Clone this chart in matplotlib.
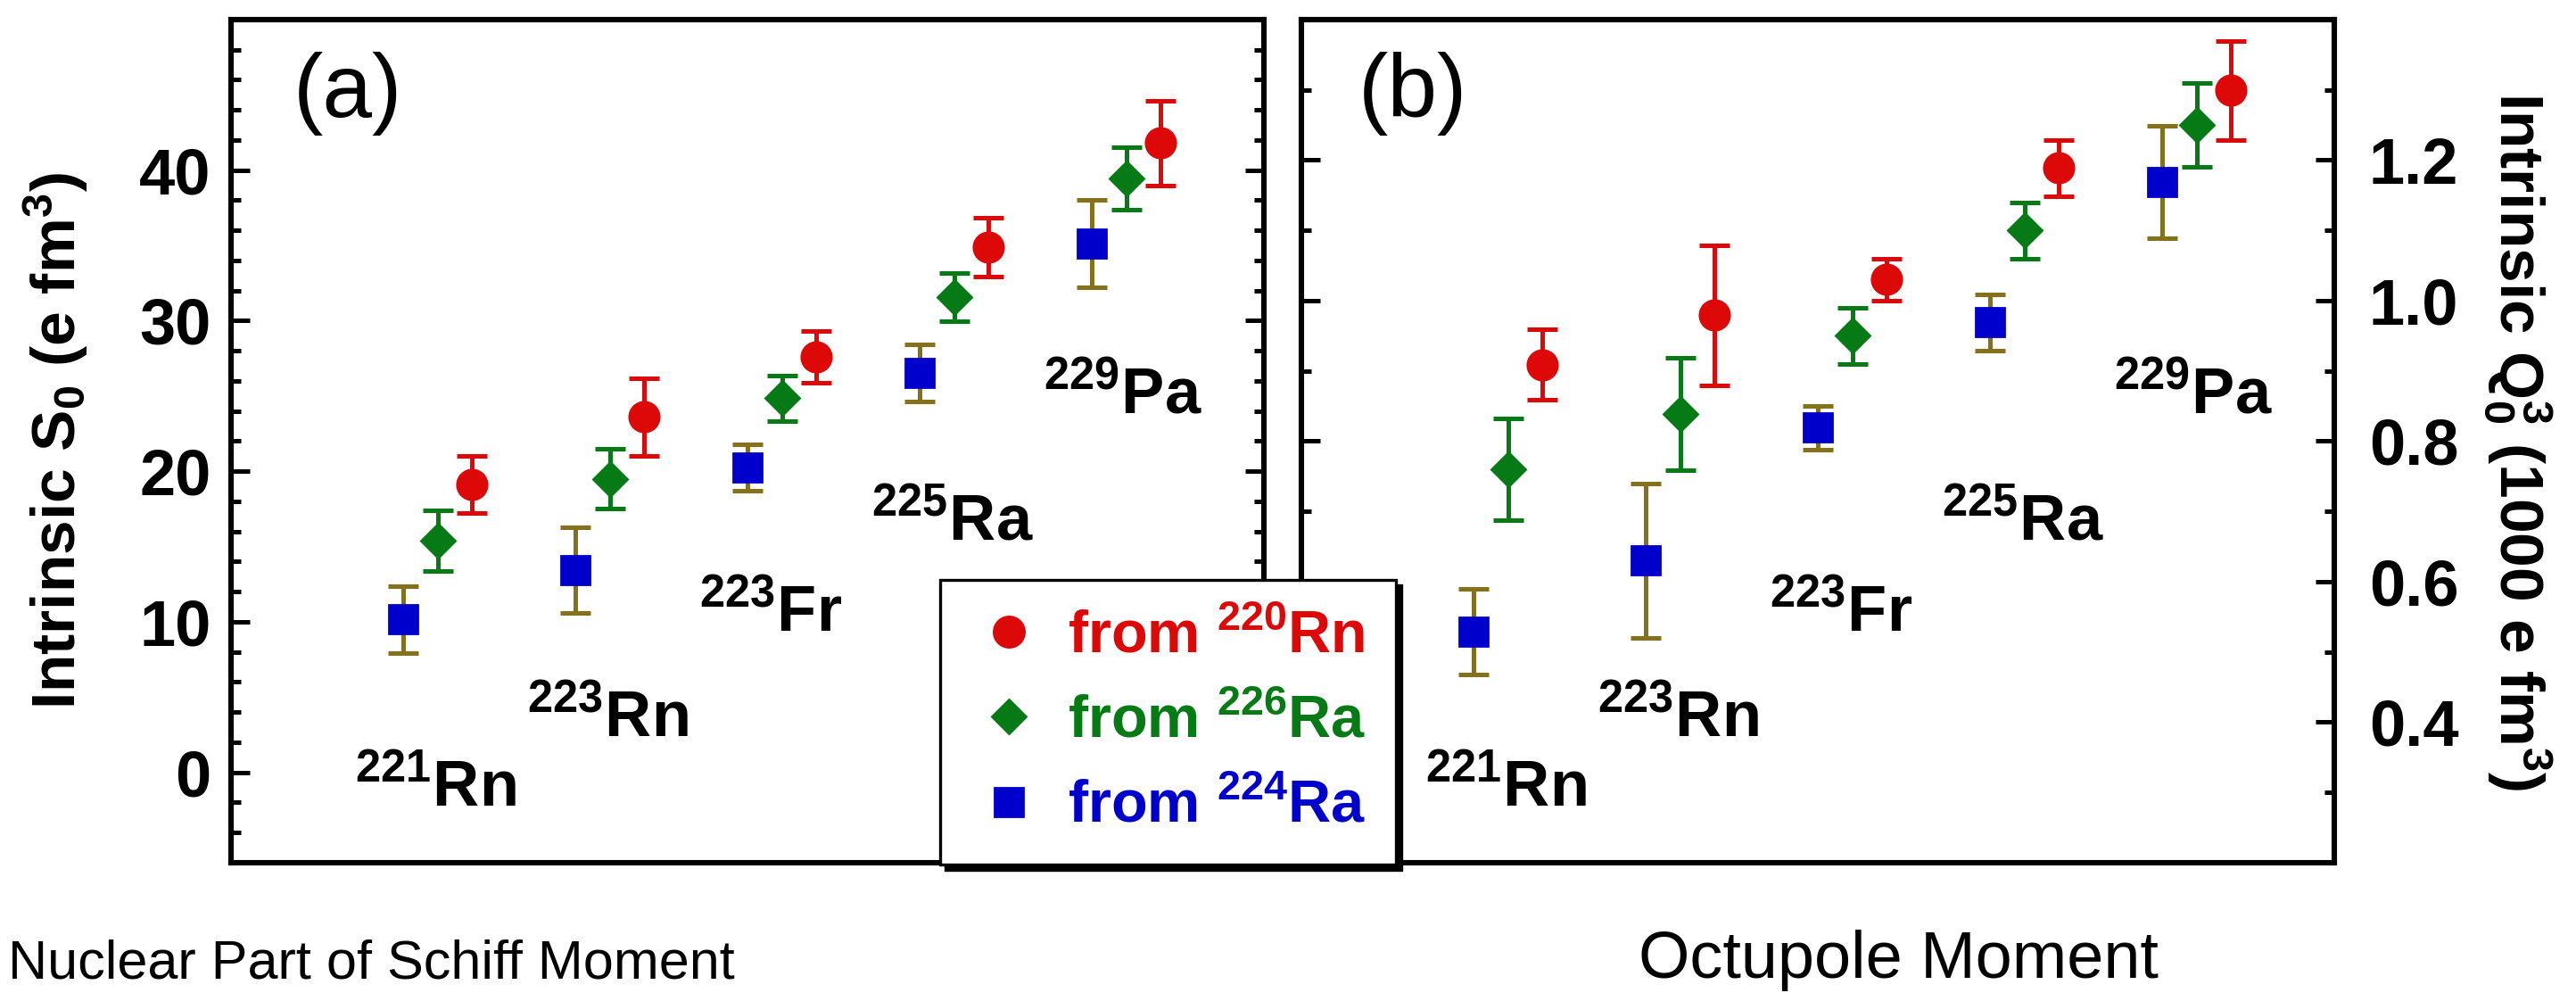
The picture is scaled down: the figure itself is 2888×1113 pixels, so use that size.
import numpy as np
import matplotlib
matplotlib.use('Agg')
import matplotlib.pyplot as plt
from matplotlib import font_manager
from matplotlib.lines import Line2D
from matplotlib.ticker import MultipleLocator

plt.rcParams['font.family'] = ['Liberation Sans', 'DejaVu Sans']
plt.rcParams['mathtext.default'] = 'regular'

# nuclei (one group per nucleus) and the three sources
nuclei = [r'$^{221}$Rn', r'$^{223}$Rn', r'$^{223}$Fr', r'$^{225}$Ra', r'$^{229}$Pa']
sources = [r'from $^{220}$Rn', r'from $^{226}$Ra', r'from $^{224}$Ra']

# (a) intrinsic Schiff moment S0 (e fm^3)
s_rn220 = [19.1, 23.6, 27.6, 34.9, 41.8]
s_rn220_err = [1.9, 2.6, 1.7, 1.95, 2.8]
s_ra226 = [15.4, 19.5, 24.85, 31.55, 39.45]
s_ra226_err = [2.0, 2.0, 1.5, 1.6, 2.05]
s_ra224 = [10.15, 13.45, 20.25, 26.55, 35.1]
s_ra224_err = [2.2, 2.85, 1.55, 1.9, 2.9]

# (b) intrinsic octupole moment Q0^3 (1000 e fm^3)
q_rn220 = [0.909, 0.979, 1.030, 1.189, 1.299]
q_rn220_err = [0.05, 0.10, 0.03, 0.04, 0.07]
q_ra226 = [0.760, 0.839, 0.950, 1.100, 1.250]
q_ra226_err = [0.072, 0.08, 0.04, 0.04, 0.06]
q_ra224 = [0.529, 0.630, 0.819, 0.969, 1.169]
q_ra224_err = [0.061, 0.11, 0.031, 0.04, 0.08]

RED = '#dd0808'
GREEN = '#067a14'
BLUE = '#0000cc'
OLIVE = '#85701c'

# style per source: marker colour, error bar colour, marker, size, x shift
styles = [
    (RED, RED, 'o', 12, 0.2),
    (GREEN, GREEN, 'D', 9.5, 0.0),
    (BLUE, OLIVE, 's', 11.5, -0.2),
]

x = np.arange(1, len(nuclei) + 1)

# where the nucleus names sit (left edge x, centre y in data units)
lab_dx = -0.48
lab_y_a = [-1.1, 3.5, 10.5, 16.6, 25.0]
lab_y_b = [0.305, 0.404, 0.554, 0.684, 0.864]

# the left x title is set in a narrow face; fall back to a smaller size
installed = {f.name for f in font_manager.fontManager.ttflist}
if 'Liberation Sans Narrow' in installed:
    narrow_family, narrow_size = 'Liberation Sans Narrow', 27
else:
    narrow_family, narrow_size = 'Liberation Sans', 22


def draw_panel(ax, series, lab_y):
    for (vals, errs), (col, ecol, mk, ms, dx) in zip(series, styles):
        ax.errorbar(x + dx, vals, yerr=errs, fmt=mk, color=col, mec=col,
                    ecolor=ecol, ms=ms, elinewidth=1.8, capsize=6,
                    capthick=1.8, zorder=3)
    for xi, yi, name in zip(x, lab_y, nuclei):
        ax.text(xi + lab_dx, yi, name, fontsize=26, fontweight='bold',
                ha='left', va='center')
    ax.set_xlim(-0.2, 5.8)
    ax.set_xticks([])
    for sp in ax.spines.values():
        sp.set_linewidth(2.2)
    ax.tick_params(axis='y', which='both', direction='in', left=True,
                   right=True, width=1.8)
    ax.tick_params(axis='y', which='major', length=7.5)
    ax.tick_params(axis='y', which='minor', length=4)


fig = plt.figure(figsize=(14.44, 5.565), dpi=200)
ax_a = fig.add_axes([0.0897, 0.1312, 0.4010, 0.8491])
ax_b = fig.add_axes([0.5052, 0.1312, 0.4010, 0.8491])

# panel (a)
draw_panel(ax_a, [(s_rn220, s_rn220_err), (s_ra226, s_ra226_err),
                  (s_ra224, s_ra224_err)], lab_y_a)
ax_a.set_ylim(-6, 50)
ticks_a = [0, 10, 20, 30, 40]
ax_a.set_yticks(ticks_a, [str(t) for t in ticks_a], fontsize=26,
                fontweight='bold')
ax_a.yaxis.set_minor_locator(MultipleLocator(2))
ax_a.tick_params(axis='y', pad=8, labelleft=True, labelright=False)
ax_a.set_ylabel(r'Intrinsic S$_0$ (e fm$^3$)', fontsize=25,
                fontweight='bold', labelpad=20)
ax_a.text(0.06, 0.912, '(a)', transform=ax_a.transAxes, fontsize=36,
          ha='left', va='center')
ax_a.set_xlabel('Nuclear Part of Schiff Moment', fontsize=narrow_size,
                family=narrow_family, va='baseline')
ax_a.xaxis.set_label_coords(0.136, -0.137)

# panel (b)
draw_panel(ax_b, [(q_rn220, q_rn220_err), (q_ra226, q_ra226_err),
                  (q_ra224, q_ra224_err)], lab_y_b)
ax_b.set_ylim(0.2, 1.4)
ticks_b = [0.4, 0.6, 0.8, 1.0, 1.2]
ax_b.set_yticks(ticks_b, [f'{t:.1f}' for t in ticks_b], fontsize=26,
                fontweight='bold')
ax_b.yaxis.set_minor_locator(MultipleLocator(0.1))
ax_b.tick_params(axis='y', pad=14, labelleft=False, labelright=True)
ax_b.yaxis.set_label_position('right')
ax_b.set_ylabel(r'Intrinsic Q$_0^3$ (1000 e fm$^3$)', fontsize=25,
                fontweight='bold', rotation=270, va='bottom', labelpad=9)
ax_b.text(0.055, 0.912, '(b)', transform=ax_b.transAxes, fontsize=36,
          ha='left', va='center')
ax_b.set_xlabel('Octupole Moment', fontsize=26.6, va='baseline')
ax_b.xaxis.set_label_coords(0.578, -0.137)

# legend, markers only
handles = [Line2D([], [], ls='none', marker=mk, color=col, mec=col,
                  ms=ms + 0.3) for col, ecol, mk, ms, dx in styles]
leg = fig.legend(handles, sources, loc='upper left',
                 bbox_to_anchor=(1054 / 2888, 1 - 650 / 1113),
                 borderaxespad=0, borderpad=0.5, handlelength=1.32,
                 handletextpad=0.33, labelspacing=0.5, fancybox=False,
                 framealpha=1, edgecolor='black',
                 shadow={'color': 'black', 'alpha': 1},
                 labelcolor=[RED, GREEN, BLUE],
                 prop={'family': 'Liberation Sans', 'weight': 'bold',
                       'size': 24})
leg.get_frame().set_linewidth(1.2)

fig.savefig('out.png', dpi=200)
